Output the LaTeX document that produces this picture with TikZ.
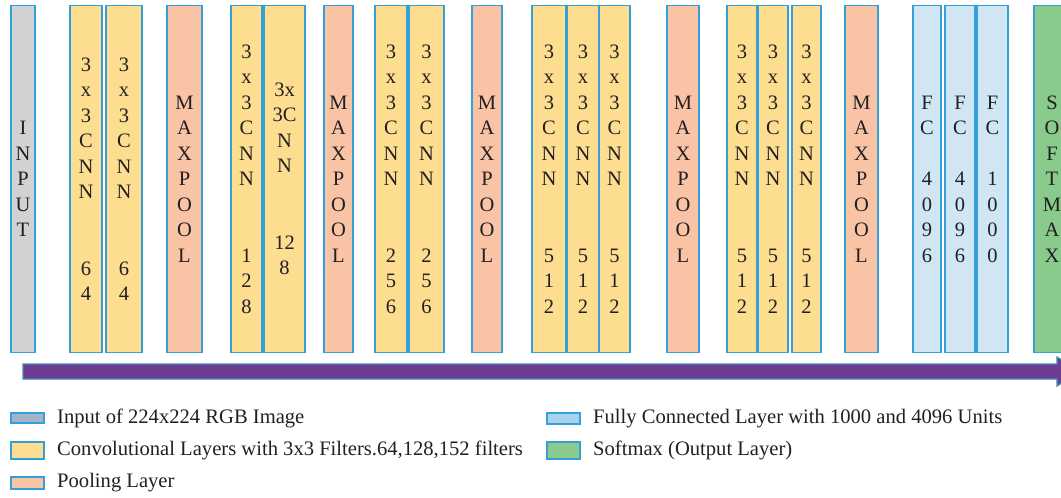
\documentclass[tikz,border=0pt]{standalone}
\usepackage{fontspec}
\setmainfont{Liberation Serif}
\definecolor{bordr}{RGB}{52,160,218}
\definecolor{txt}{RGB}{35,31,32}
\definecolor{inputc}{RGB}{209,210,212}
\definecolor{convc}{RGB}{253,222,145}
\definecolor{poolc}{RGB}{249,195,165}
\definecolor{fcc}{RGB}{208,230,244}
\definecolor{softc}{RGB}{138,203,141}
\definecolor{legin}{RGB}{162,180,198}
\definecolor{legfc}{RGB}{167,211,238}
\definecolor{arrowc}{RGB}{110,59,146}
\definecolor{arrowb}{RGB}{63,143,176}
\newcommand\lay[5]{\node[#2, minimum width={(#4-#3)*1pt}] (#1) at ({(#3+#4)/2},179) {#5};}
\begin{document}
\begin{tikzpicture}[x=1pt,y=-1pt,
  layer/.style={draw=bordr, line width=1.4pt, inner sep=0pt, minimum height=347pt,
    align=center, text=txt, font=\fontsize{20.5}{25.5}\selectfont},
  inputbox/.style={layer, fill=inputc},
  conv/.style={layer, fill=convc},
  pool/.style={layer, fill=poolc},
  fcbox/.style={layer, fill=fcc},
  softbox/.style={layer, fill=softc},
  swatch/.style={draw=bordr, line width=1.2pt, inner sep=0pt, minimum width=33pt},
  legtext/.style={anchor=base west, inner sep=0pt, text=txt, font=\fontsize{20.6}{24}\selectfont}]
\useasboundingbox (0,0) rectangle (1061,498);
\clip (0,0) rectangle (1061,498);
% layers
\lay{in}{inputbox}{11}{35}{I\\N\\P\\U\\T}
\lay{c1}{conv}{70}{102}{3\\x\\3\\C\\N\\N\\[51pt]6\\4}
\lay{c2}{conv}{106}{142}{3\\x\\3\\C\\N\\N\\[51pt]6\\4}
\lay{p1}{pool}{167}{202}{M\\A\\X\\P\\O\\O\\L}
\lay{c3}{conv}{231}{262}{3\\x\\3\\C\\N\\N\\[51pt]1\\2\\8}
\lay{c4}{conv}{264}{305}{3x\\3C\\N\\N\\[51pt]12\\8}
\lay{p2}{pool}{324}{353}{M\\A\\X\\P\\O\\O\\L}
\lay{c5}{conv}{375}{407}{3\\x\\3\\C\\N\\N\\[51pt]2\\5\\6}
\lay{c6}{conv}{409}{444}{3\\x\\3\\C\\N\\N\\[51pt]2\\5\\6}
\lay{p3}{pool}{472}{502}{M\\A\\X\\P\\O\\O\\L}
\lay{c7}{conv}{532}{566}{3\\x\\3\\C\\N\\N\\[51pt]5\\1\\2}
\lay{c8}{conv}{567}{599}{3\\x\\3\\C\\N\\N\\[51pt]5\\1\\2}
\lay{c9}{conv}{599}{630}{3\\x\\3\\C\\N\\N\\[51pt]5\\1\\2}
\lay{p4}{pool}{667}{699}{M\\A\\X\\P\\O\\O\\L}
\lay{c10}{conv}{727}{757}{3\\x\\3\\C\\N\\N\\[51pt]5\\1\\2}
\lay{c11}{conv}{758}{788}{3\\x\\3\\C\\N\\N\\[51pt]5\\1\\2}
\lay{c12}{conv}{792}{821}{3\\x\\3\\C\\N\\N\\[51pt]5\\1\\2}
\lay{p5}{pool}{845}{878}{M\\A\\X\\P\\O\\O\\L}
\lay{f1}{fcbox}{913}{941}{F\\C\\[25.5pt]4\\0\\9\\6}
\lay{f2}{fcbox}{945}{975}{F\\C\\[25.5pt]4\\0\\9\\6}
\lay{f3}{fcbox}{977}{1008}{F\\C\\[25.5pt]1\\0\\0\\0}
\node[softbox, minimum width=36pt] (sm) at (1052,179) {S\\O\\F\\T\\M\\A\\X};
% flow arrow
\coordinate (astart) at (23,371.5);
\coordinate (aend) at (1080,371.5);
\draw[fill=arrowc, draw=arrowb, line width=1.2pt, line join=miter]
  (23,364) -- (1057,364) -- (1057,357) -- (aend) -- (1057,386) -- (1057,379) -- (23,379) -- cycle;
% legend
\node[swatch, fill=legin, minimum height=10pt] (k1) at (27.5,418) {};
\node[legtext] (t1) at (57,423) {Input of 224x224 RGB Image};
\node[swatch, fill=convc, minimum height=17pt] (k2) at (27.5,450.5) {};
\node[legtext] (t2) at (57,455) {Convolutional Layers with 3x3 Filters.64,128,152 filters};
\node[swatch, fill=poolc, minimum height=12pt] (k3) at (27.5,483) {};
\node[legtext] (t3) at (57,487) {Pooling Layer};
\node[swatch, fill=legfc, minimum height=11pt] (k4) at (563.5,418.5) {};
\node[legtext] (t4) at (593,423) {Fully Connected Layer with 1000 and 4096 Units};
\node[swatch, fill=softc, minimum height=17pt] (k5) at (563.5,450.5) {};
\node[legtext] (t5) at (593,455) {Softmax (Output Layer)};
\end{tikzpicture}
\end{document}
